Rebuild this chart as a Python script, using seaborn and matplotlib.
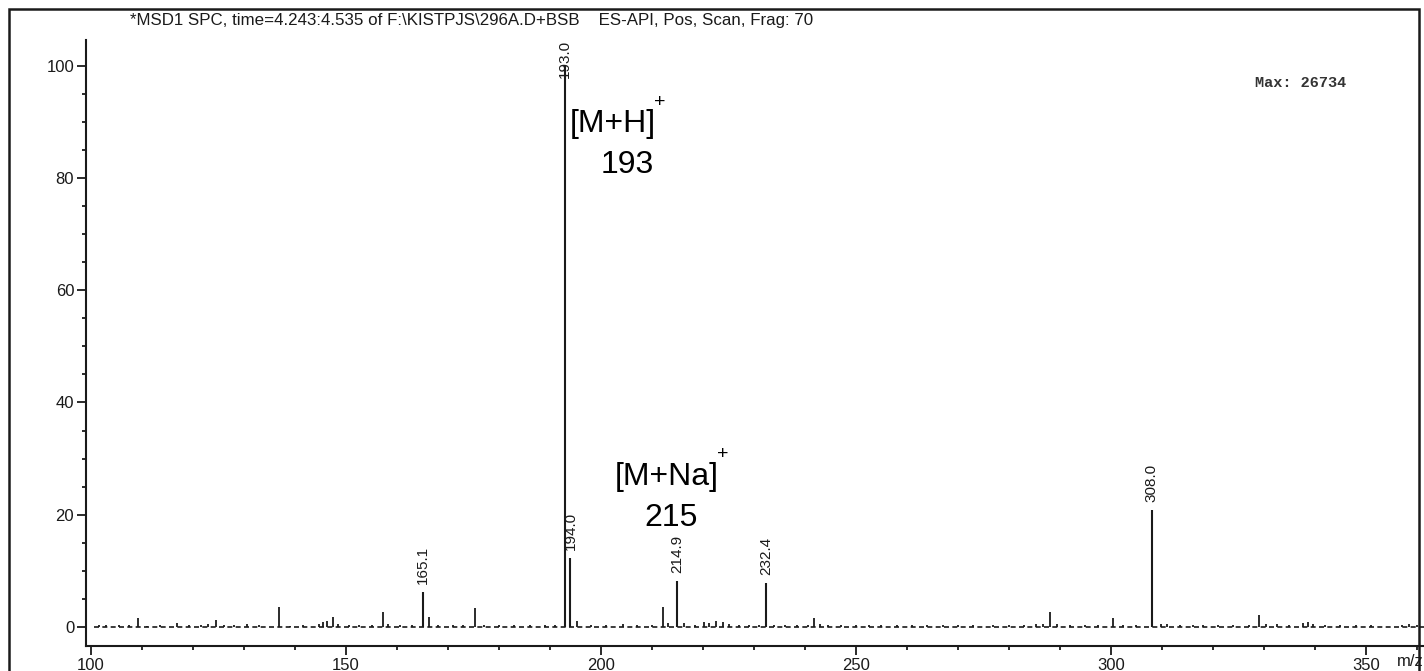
"""
Mass spectrum (ES-API positive scan) redrawn as a stick plot.
"""

import matplotlib

matplotlib.use("Agg")
import matplotlib.pyplot as plt
import numpy as np
import seaborn as sns
from matplotlib.patches import Rectangle
from matplotlib.ticker import MultipleLocator

sns.set_style("ticks")
plt.rcParams["font.family"] = ["Liberation Sans", "DejaVu Sans"]

# Labelled peaks (m/z, relative abundance %)
labelled_mz = [165.1, 193.0, 194.0, 214.9, 232.4, 308.0]
labelled_int = [6.2, 100.0, 12.3, 8.2, 7.8, 20.8]
labelled_txt = ["165.1", "193.0", "194.0", "214.9", "232.4", "308.0"]

# Small unlabelled peaks / baseline noise
minor_mz = [
    101.5, 103.0, 105.5, 107.5, 109.2, 111.0, 113.5, 116.9, 119.2, 121.5,
    123.0, 124.5, 126.0, 128.0, 130.5, 133.0, 136.9, 139.0, 141.5, 144.7,
    145.5, 146.2, 147.4, 148.5, 150.5, 152.5, 155.0, 157.2, 158.2, 160.5,
    163.0, 166.3, 168.0, 171.0, 173.0, 175.3, 177.0, 180.0, 183.0, 186.0,
    189.0, 191.0, 195.3, 198.0, 201.0, 204.3, 207.0, 210.0, 212.2, 213.1,
    216.3, 218.5, 220.2, 221.2, 222.5, 223.9, 225.1, 227.0, 229.0, 231.0,
    234.0, 236.0, 238.5, 240.5, 241.8, 243.0, 244.5, 247.0, 250.0, 252.5,
    255.0, 258.0, 261.0, 264.0, 267.0, 270.0, 273.0, 276.9, 280.0, 283.0,
    285.3, 286.7, 288.0, 289.5, 292.0, 295.0, 297.5, 300.4, 302.4, 305.0,
    309.8, 311.0, 313.5, 316.0, 318.0, 321.0, 324.0, 327.0, 329.0, 330.5,
    332.5, 335.0, 337.6, 338.6, 339.6, 342.0, 345.0, 348.0, 351.0, 357.0,
    358.5, 360.0,
]
minor_int = [
    0.3, 0.3, 0.3, 0.4, 1.6, 0.2, 0.3, 0.7, 0.4, 0.3,
    0.6, 1.3, 0.3, 0.4, 0.5, 0.3, 3.6, 0.2, 0.3, 0.6,
    0.9, 1.0, 1.8, 0.5, 0.4, 0.4, 0.4, 2.7, 0.5, 0.3,
    0.3, 1.8, 0.3, 0.3, 0.3, 3.3, 0.3, 0.3, 0.3, 0.3,
    0.3, 0.3, 1.0, 0.3, 0.3, 0.5, 0.4, 0.4, 3.6, 0.7,
    0.7, 0.3, 0.8, 0.7, 1.0, 0.8, 0.6, 0.3, 0.3, 0.4,
    0.4, 0.4, 0.3, 0.4, 1.6, 0.5, 0.4, 0.3, 0.3, 0.4,
    0.3, 0.4, 0.3, 0.3, 0.3, 0.3, 0.3, 0.4, 0.3, 0.3,
    0.5, 0.5, 2.7, 0.5, 0.3, 0.3, 0.3, 1.6, 0.4, 0.3,
    0.6, 0.5, 0.4, 0.4, 0.4, 0.3, 0.3, 0.3, 2.1, 0.5,
    0.5, 0.3, 0.7, 0.8, 0.6, 0.3, 0.3, 0.3, 0.3, 0.4,
    0.5, 0.4,
]

title_txt = ("*MSD1 SPC, time=4.243:4.535 of F:\\KISTPJS\\296A.D+BSB"
             "    ES-API, Pos, Scan, Frag: 70")

W, H = 1424, 671
fig = plt.figure(figsize=(W / 100, H / 100), dpi=100)
ax = fig.add_axes([86 / W, (H - 646) / H, 1 - 86 / W, (646 - 40) / H])

ink = "#1a1a1a"

# baseline + sticks
ax.plot([100.5, 361.5], [0, 0], color=ink, lw=1.2, ls=(0, (3, 2)))
ax.vlines(minor_mz, 0, minor_int, color=ink, lw=1.3)
ax.vlines(labelled_mz, 0, labelled_int, color=ink, lw=1.5)

ax.set_xlim(99.0, 361.4)
ax.set_ylim(-3.4, 104.6)

ytop = ax.get_ylim()[1]
for mz, val, txt in zip(labelled_mz, labelled_int, labelled_txt):
    if val > 90:
        ax.text(mz, ytop, txt, rotation=90, ha="center", va="top",
                fontsize=11, color=ink)
    else:
        ax.annotate(txt, (mz, val), xytext=(0, 6), textcoords="offset points",
                    rotation=90, ha="center", va="bottom", fontsize=11, color=ink)

# ion annotations
ax.text(193.9, 89.7, "[M+H]", fontsize=23, ha="left", va="center", color="black")
ax.text(211.6, 93.4, "+", fontsize=14, ha="center", va="center", color="black")
ax.text(205.1, 82.4, "193", fontsize=23, ha="center", va="center", color="black")
ax.text(202.7, 26.7, "[M+Na]", fontsize=23, ha="left", va="center", color="black")
ax.text(223.9, 30.7, "+", fontsize=14, ha="center", va="center", color="black")
ax.text(213.7, 19.4, "215", fontsize=23, ha="center", va="center", color="black")

ax.xaxis.set_major_locator(MultipleLocator(50))
ax.xaxis.set_minor_locator(MultipleLocator(10))
ax.yaxis.set_major_locator(MultipleLocator(20))
ax.yaxis.set_minor_locator(MultipleLocator(5))
ax.tick_params(which="major", length=6.5, width=1.3, labelsize=12,
               colors=ink, pad=2)
ax.tick_params(which="minor", length=3, width=1.3, colors=ink)

sns.despine(ax=ax)
for side in ("left", "bottom"):
    ax.spines[side].set_linewidth(1.5)
    ax.spines[side].set_color(ink)
ax.patch.set_alpha(0)

fig.text(130 / W, 1 - 20 / H, title_txt, fontsize=12.2, ha="left",
         va="center", color=ink)
fig.text(1255 / W, 1 - 83 / H, "Max: 26734", family="Liberation Mono",
         fontsize=11, weight="bold", ha="left", va="center", color="#333333")
fig.text(1397 / W, 1 - 662 / H, "m/z", fontsize=12, ha="left",
         va="center", color=ink)

# outer frame
fig.patches.append(Rectangle((9 / W, -0.2), (1419 - 9) / W, 1.2 - 9 / H,
                             transform=fig.transFigure, fill=False,
                             edgecolor=ink, lw=1.8))

fig.savefig("out.png", dpi=100, facecolor="white")
